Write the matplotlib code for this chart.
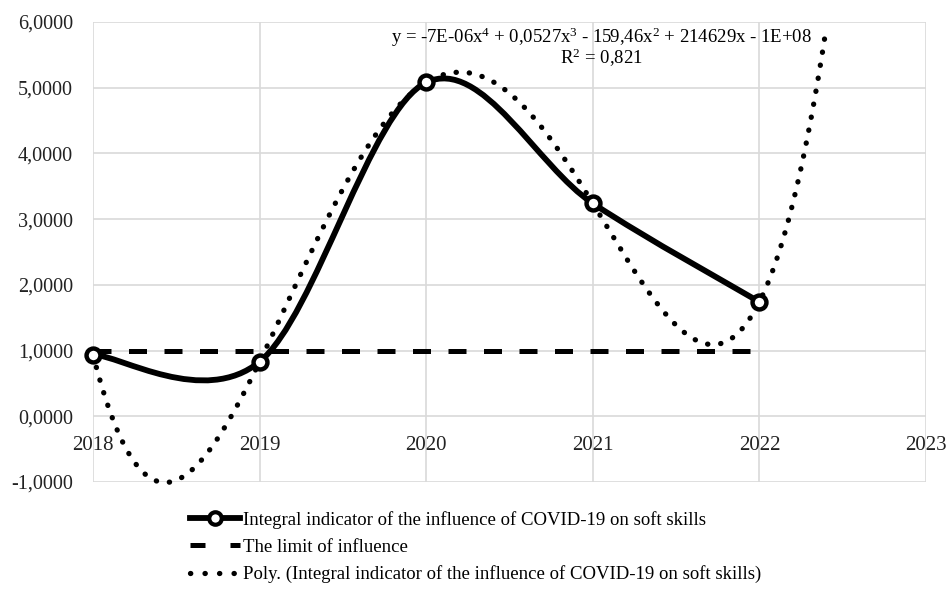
import numpy as np
import matplotlib
matplotlib.use("Agg")
import matplotlib.pyplot as plt
from matplotlib.path import Path
from matplotlib.patches import PathPatch
from matplotlib.lines import Line2D

# ---- data ----
years = [2018, 2019, 2020, 2021, 2022]
indicator = [0.94, 0.83, 5.08, 3.24, 1.74]
limit = [1.0, 1.0, 1.0, 1.0, 1.0]
trend_forward = 0.4
y_ticks = [-1, 0, 1, 2, 3, 4, 5, 6]
x_ticks = [2018, 2019, 2020, 2021, 2022, 2023]
equation = "y = -7E-06x$^4$ + 0,0527x$^3$ - 159,46x$^2$ + 214629x - 1E+08"
r2_text = "R$^2$ = 0,821"
label_main = "Integral indicator of the influence of COVID-19 on soft skills"
label_limit = "The limit of influence"
label_poly = "Poly. (Integral indicator of the influence of COVID-19 on soft skills)"

plt.rcParams['font.family'] = ['Liberation Serif', 'DejaVu Serif']
plt.rcParams['mathtext.fontset'] = 'custom'
plt.rcParams['mathtext.rm'] = 'Liberation Serif'
plt.rcParams['mathtext.it'] = 'Liberation Serif'

W, H = 949, 593
fig = plt.figure(figsize=(W / 100, H / 100), dpi=100)
ax = fig.add_axes([93/W, 1-482/H, (926-93)/W, (482-22)/H])
ax.set_xlim(2018, 2023)
ax.set_ylim(-1, 6)

grid_c = '#d9d9d9'
for yv in y_ticks:
    ax.axhline(yv, color=grid_c, lw=1.2, zorder=0)
for xv in x_ticks:
    ax.axvline(xv, color=grid_c, lw=1.2, zorder=0)
for s in ax.spines.values():
    s.set_visible(False)
ax.set_yticks(y_ticks)
ax.set_yticklabels([f"{v:.4f}".replace('.', ',') for v in y_ticks])
ax.set_xticks([])
ax.tick_params(axis='y', length=0, labelsize=14.5, labelcolor='#222222', pad=14.5)
for xv in x_ticks:
    ax.annotate(str(xv), (xv, 0), xytext=(0, -14), textcoords='offset points',
                ha='center', va='top', fontsize=15, color='#222222')

BLACK = '#000000'
lw_main = 4.2

# smoothed line (Catmull-Rom -> cubic Bezier)
xs = np.array(years, float)
ys = np.array(indicator, float)
P = np.column_stack([xs, ys])
verts = [P[0]]
codes = [Path.MOVETO]
n = len(P)
for i in range(n - 1):
    p0 = P[i - 1] if i > 0 else P[i]
    p1 = P[i]
    p2 = P[i + 1]
    p3 = P[i + 2] if i + 2 < n else P[i + 1]
    c1 = p1 + (p2 - p0) / 6
    c2 = p2 - (p3 - p1) / 6
    verts += [c1, c2, p2]
    codes += [Path.CURVE4] * 3
ax.add_patch(PathPatch(Path(verts, codes), facecolor='none', edgecolor=BLACK,
                       lw=lw_main, zorder=4, capstyle='round', joinstyle='round'))
ax.plot(years, indicator, ls='none', marker='o', ms=10, mfc='white', mec=BLACK,
        mew=3.2, zorder=5, clip_on=False)

# limit line
ax.plot(years, limit, color=BLACK, lw=3.6, dashes=(3.6, 3.5), zorder=3)

# polynomial trendline (order 4)
xc = xs - xs[0]
coef = np.polyfit(xc, ys, 4)
tx = np.linspace(0, xc[-1] + trend_forward, 400)
ty = np.polyval(coef, tx)
ax.plot(tx + xs[0], ty, color=BLACK, lw=3.8, dashes=(0.05, 2.45),
        dash_capstyle='round', zorder=3, clip_on=False)

fig.text(601/W, 1-37/H, equation, ha='center', va='center', fontsize=13.5)
fig.text(601/W, 1-58/H, r2_text, ha='center', va='center', fontsize=13.5)

h1 = Line2D([], [], color=BLACK, lw=lw_main, marker='o', ms=9, mfc='white', mec=BLACK, mew=3.0)
h2 = Line2D([], [], color=BLACK, lw=3.6, dashes=(3.0, 5.0))
h3 = Line2D([], [], color=BLACK, lw=3.8, dashes=(0.05, 2.7), dash_capstyle='round')
leg = fig.legend([h1, h2, h3], [label_main, label_limit, label_poly],
                 loc='upper left', bbox_to_anchor=(190/W, 1-511/H),
                 frameon=False, fontsize=13.5, handlelength=2.65, handletextpad=0.17,
                 labelspacing=0.52, borderpad=0, borderaxespad=0)

fig.savefig('out.png', dpi=100)
